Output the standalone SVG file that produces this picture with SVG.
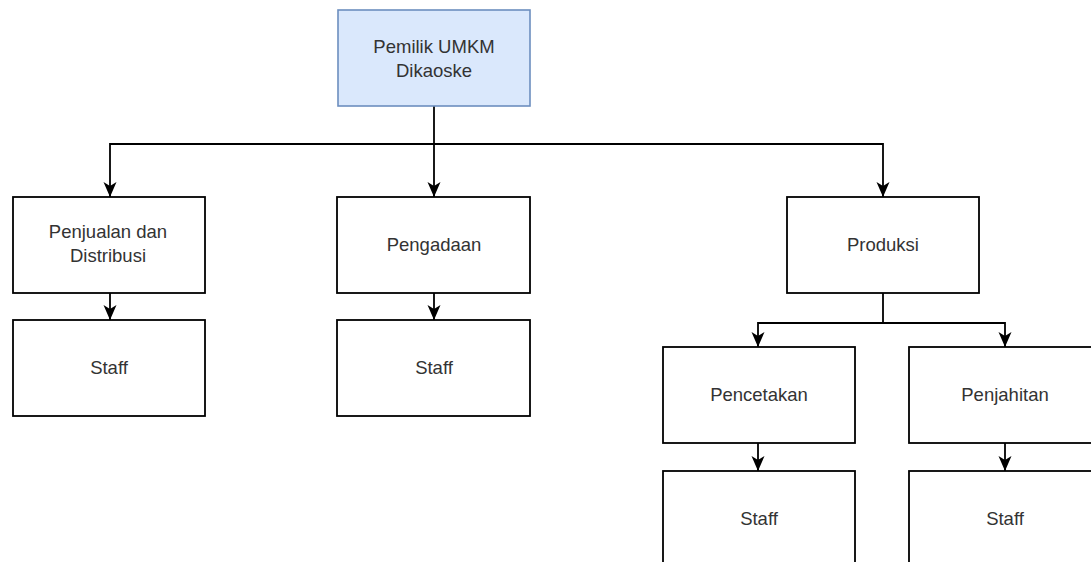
<svg xmlns="http://www.w3.org/2000/svg" width="1091" height="562" viewBox="0 0 1091 562">
  <style>
    .box { fill: #ffffff; stroke: #000000; stroke-width: 1.8; }
    .root { fill: #dae8fc; stroke: #6c8ebf; stroke-width: 1.6; }
    .lbl { font-family: "Liberation Sans", Arial, sans-serif; font-size: 18.5px; fill: #333333; text-anchor: middle; }
    .edge { fill: none; stroke: #000000; stroke-width: 1.8; }
  </style>
  <defs>
    <marker id="arr" markerUnits="userSpaceOnUse" markerWidth="15" markerHeight="14" refX="15" refY="7" orient="auto">
      <path d="M0,0.5 L15,7 L0,13.5 L4,7 Z" fill="#000000"/>
    </marker>
  </defs>
  <rect width="1091" height="562" fill="#ffffff"/>
  <g id="connectors">
    <path class="edge" d="M434,106 L434,197" marker-end="url(#arr)"/>
    <path class="edge" d="M434,144 L110,144 L110,197" marker-end="url(#arr)"/>
    <path class="edge" d="M434,144 L883,144 L883,197" marker-end="url(#arr)"/>
    <path class="edge" d="M110,293 L110,320" marker-end="url(#arr)"/>
    <path class="edge" d="M434,293 L434,320" marker-end="url(#arr)"/>
    <path class="edge" d="M883,293 L883,323 L758,323 L758,347" marker-end="url(#arr)"/>
    <path class="edge" d="M883,323 L1005,323 L1005,347" marker-end="url(#arr)"/>
    <path class="edge" d="M758,443 L758,471" marker-end="url(#arr)"/>
    <path class="edge" d="M1005,443 L1005,471" marker-end="url(#arr)"/>
  </g>
  <g id="pemilik">
    <rect class="root" x="338" y="10" width="192" height="96"/>
    <text class="lbl" x="434" y="53">Pemilik UMKM</text>
    <text class="lbl" x="434" y="77">Dikaoske</text>
  </g>
  <g id="penjualan">
    <rect class="box" x="13" y="197" width="192" height="96"/>
    <text class="lbl" x="108" y="238">Penjualan dan</text>
    <text class="lbl" x="108" y="262">Distribusi</text>
  </g>
  <g id="staff1">
    <rect class="box" x="13" y="320" width="192" height="96"/>
    <text class="lbl" x="109" y="374">Staff</text>
  </g>
  <g id="pengadaan">
    <rect class="box" x="337" y="197" width="193" height="96"/>
    <text class="lbl" x="434" y="251">Pengadaan</text>
  </g>
  <g id="staff2">
    <rect class="box" x="337" y="320" width="193" height="96"/>
    <text class="lbl" x="434" y="374">Staff</text>
  </g>
  <g id="produksi">
    <rect class="box" x="787" y="197" width="192" height="96"/>
    <text class="lbl" x="883" y="251">Produksi</text>
  </g>
  <g id="pencetakan">
    <rect class="box" x="663" y="347" width="192" height="96"/>
    <text class="lbl" x="759" y="401">Pencetakan</text>
  </g>
  <g id="penjahitan">
    <rect class="box" x="909" y="347" width="192" height="96"/>
    <text class="lbl" x="1005" y="401">Penjahitan</text>
  </g>
  <g id="staff3">
    <rect class="box" x="663" y="471" width="192" height="100"/>
    <text class="lbl" x="759" y="525">Staff</text>
  </g>
  <g id="staff4">
    <rect class="box" x="909" y="471" width="192" height="100"/>
    <text class="lbl" x="1005" y="525">Staff</text>
  </g>
</svg>
